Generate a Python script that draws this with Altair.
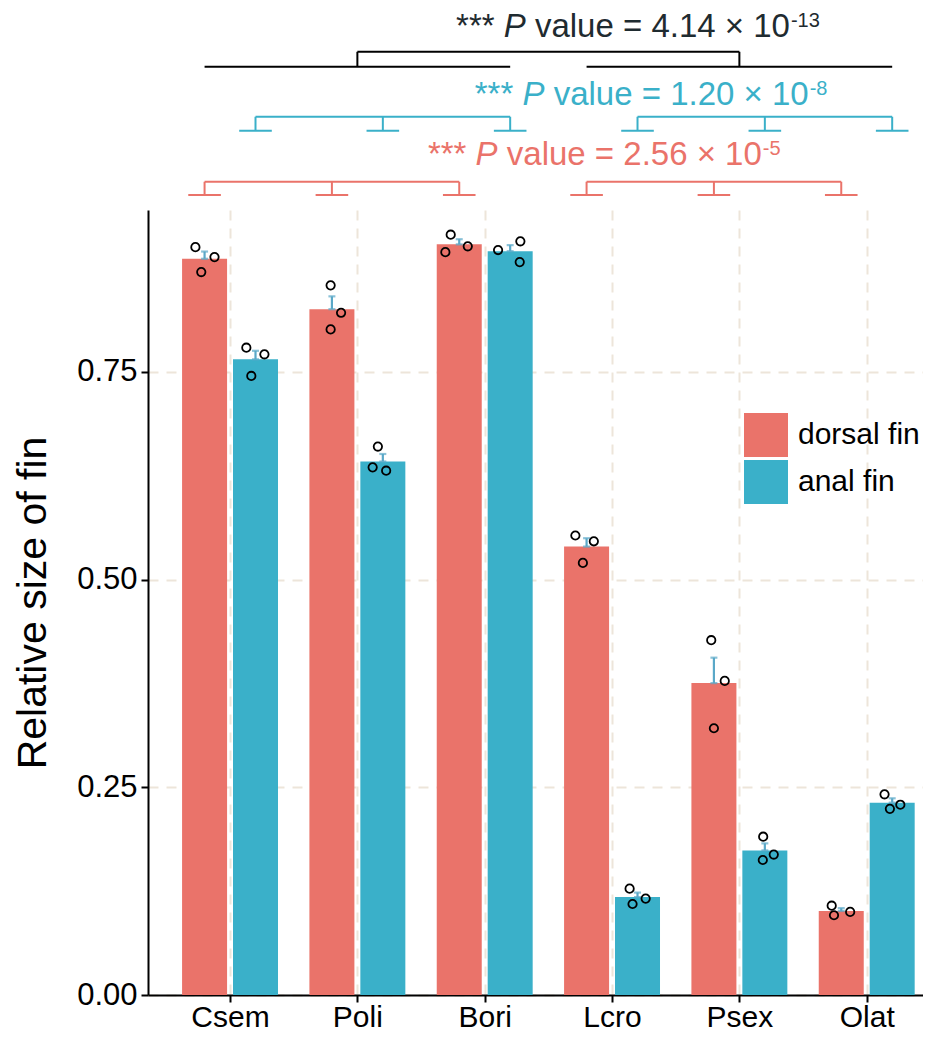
import altair as alt
import pandas as pd
import numpy as np

# ---------------- data ----------------
species = ["Csem", "Poli", "Bori", "Lcro", "Psex", "Olat"]
fins = ["dorsal fin", "anal fin"]

dorsal_points = [
    [0.900, 0.888, 0.870],
    [0.854, 0.821, 0.801],
    [0.915, 0.901, 0.894],
    [0.553, 0.546, 0.520],
    [0.427, 0.378, 0.321],
    [0.1075, 0.096, 0.100],
]
anal_points = [
    [0.779, 0.771, 0.745],
    [0.660, 0.635, 0.631],
    [0.8965, 0.907, 0.882],
    [0.128, 0.116, 0.1095],
    [0.1905, 0.1625, 0.169],
    [0.2415, 0.224, 0.229],
]
# horizontal jitter of the replicate points (category units)
dorsal_jitter = [
    [-0.072, 0.078, -0.026],
    [-0.010, 0.072, -0.010],
    [-0.067, 0.067, -0.109],
    [-0.088, 0.057, -0.029],
    [-0.021, 0.085, 0.000],
    [-0.075, -0.057, 0.070],
]
anal_jitter = [
    [-0.072, 0.070, -0.033],
    [-0.039, -0.080, 0.026],
    [-0.095, 0.080, 0.075],
    [-0.062, 0.064, -0.039],
    [-0.013, -0.016, 0.070],
    [-0.060, -0.018, 0.064],
]

# significance annotations
annot_mantissa = ["4.14", "1.20", "2.56"]
annot_exponent = ["-13", "-8", "-5"]
annot_x = [2.775, 2.922, 2.554]          # left start of each label (category units)
annot_y = [1.1528, 1.0710, 0.9988]       # text baselines (value units)
bracket_levels = {"black": (1.1171, 1.1351), "blue": (1.0401, 1.0569), "red": (0.9627, 0.9787)}

# ---------------- styling ----------------
RED = "#EA736A"
BLUE = "#3AB0C9"
DARK = "#1F2B30"
ERR = "#5AA8C8"
GRID = "#EDE5DA"
FONT = "Liberation Sans"
DODGE = 0.2
PLOT_W = 775
PLOT_H = 785
XDOM = [0.395, 0.395 + PLOT_W / 129.0]
YDOM = [0, 0.9447]

# ---------------- tables ----------------
bar_rows, pt_rows = [], []
for i, sp in enumerate(species):
    for fin, pts, jit, off in [("dorsal fin", dorsal_points[i], dorsal_jitter[i], -DODGE),
                               ("anal fin", anal_points[i], anal_jitter[i], DODGE)]:
        arr = np.array(pts)
        m = arr.mean()
        se = arr.std(ddof=1) / np.sqrt(len(arr))
        pos = i + 1 + off
        bar_rows.append({"species": sp, "fin": fin, "pos": pos, "mean": m, "top": m + se})
        for v, j in zip(pts, jit):
            pt_rows.append({"species": sp, "fin": fin, "pos": pos + j, "value": v})
bars_df = pd.DataFrame(bar_rows)
pts_df = pd.DataFrame(pt_rows)

seg = []
def add(x1, x2, y1, y2, c):
    seg.append({"x1": x1, "x2": x2, "y1": y1, "y2": y2, "c": c})

FOOT = 0.128
for name, off, col in [("blue", DODGE, BLUE), ("red", -DODGE, RED)]:
    yf, yt = bracket_levels[name]
    for grp in ([1, 2, 3], [4, 5, 6]):
        add(grp[0] + off, grp[-1] + off, yt, yt, col)
        for c in grp:
            add(c + off, c + off, yf, yt, col)
            add(c + off - FOOT, c + off + FOOT, yf, yf, col)
yl, yu = bracket_levels["black"]
add(1 - DODGE, 3 + DODGE, yl, yl, "black")
add(4 - DODGE, 6 + DODGE, yl, yl, "black")
add(2, 2, yl, yu, "black")
add(5, 5, yl, yu, "black")
add(2, 5, yu, yu, "black")
seg_df = pd.DataFrame(seg)

ann_df = pd.DataFrame({
    "xs": annot_x, "yb": annot_y,
    "s3": ["value = " + m + " \u00d7 10" for m in annot_mantissa],
    "exp": annot_exponent,
    "color": [DARK, BLUE, RED],
})

# ---------------- scales / axes ----------------
label_expr = "[" + ",".join(["''"] + ["'%s'" % s for s in species]) + "][datum.value]"
xscale = alt.Scale(domain=XDOM, nice=False, zero=False)
yscale = alt.Scale(domain=YDOM, nice=False, zero=True)
xaxis = alt.Axis(values=[1, 2, 3, 4, 5, 6], labelExpr=label_expr, title=None, grid=True,
                 labelPadding=0, labelFontSize=30)
yaxis = alt.Axis(values=[0, 0.25, 0.5, 0.75], format=".2f", title="Relative size of fin",
                 grid=True, labelPadding=4, titlePadding=22, labelFontSize=31)

def X(f):
    return alt.X(f, scale=xscale, axis=xaxis)

def Y(f):
    return alt.Y(f, scale=yscale, axis=yaxis)

bars = alt.Chart(bars_df).mark_bar(size=45).encode(
    x=X("pos:Q"), y=Y("mean:Q"),
    color=alt.Color("fin:N", scale=alt.Scale(domain=fins, range=[RED, BLUE]),
                    legend=alt.Legend(title=None, orient="none", legendX=596, legendY=203,
                                      symbolType="square", symbolSize=1936, symbolStrokeWidth=0,
                                      labelFontSize=30, labelFont=FONT, labelOffset=10,
                                      rowPadding=3, labelColor="black", padding=0)),
)
err_rule = alt.Chart(bars_df).mark_rule(color=ERR, strokeWidth=2.2).encode(
    x=X("pos:Q"), y=Y("mean:Q"), y2="top:Q")
err_lo = alt.Chart(bars_df).mark_tick(color=ERR, orient="horizontal", size=7, thickness=2.2).encode(
    x=X("pos:Q"), y=Y("mean:Q"))
err_hi = alt.Chart(bars_df).mark_tick(color=ERR, orient="horizontal", size=7, thickness=2.2).encode(
    x=X("pos:Q"), y=Y("top:Q"))
points = alt.Chart(pts_df).mark_point(filled=False, color="black", size=70, strokeWidth=1.8, opacity=1).encode(
    x=X("pos:Q"), y=Y("value:Q"))

brackets = alt.Chart(seg_df).mark_rule(strokeWidth=2).encode(
    x=X("x1:Q"), x2="x2:Q", y=Y("y1:Q"), y2="y2:Q",
    color=alt.Color("c:N", scale=None))

F = 33
FS = 20
CW = {"*": .389, " ": .278, "P": .667}
w_star = 3 * CW["*"] * F
w_sp = CW[" "] * F
w_P = CW["P"] * F
w3 = (0.5 + .556 + .222 + .556 + .556 + .278 + .584 + .278 + .556 + .278 + .556 + .556 + .278 + .584 + .278 + .556 + .556) * F

base = alt.Chart(ann_df)
t1 = base.mark_text(align="left", baseline="alphabetic", font=FONT, fontSize=F, dx=0).encode(
    x=X("xs:Q"), y=Y("yb:Q"), text=alt.value("***"), color=alt.Color("color:N", scale=None))
t2 = base.mark_text(align="left", baseline="alphabetic", font=FONT, fontSize=F, fontStyle="italic",
                    dx=w_star + w_sp).encode(
    x=X("xs:Q"), y=Y("yb:Q"), text=alt.value("P"), color=alt.Color("color:N", scale=None))
t3 = base.mark_text(align="left", baseline="alphabetic", font=FONT, fontSize=F,
                    dx=w_star + w_sp + w_P + w_sp).encode(
    x=X("xs:Q"), y=Y("yb:Q"), text="s3:N", color=alt.Color("color:N", scale=None))
t4 = base.mark_text(align="left", baseline="alphabetic", font=FONT, fontSize=FS,
                    dx=w_star + w_sp + w_P + w_sp + w3 + 1, dy=-10).encode(
    x=X("xs:Q"), y=Y("yb:Q"), text="exp:N", color=alt.Color("color:N", scale=None))

chart = alt.layer(bars, err_rule, err_lo, err_hi, points, brackets, t1, t2, t3, t4).properties(
    width=PLOT_W, height=PLOT_H,
    autosize=alt.AutoSizeParams(type="none"),
    padding={"left": 140, "top": 202, "right": 0, "bottom": 41},
).configure_view(strokeWidth=0).configure_axis(
    domainColor="black", domainWidth=2, tickColor="black", tickWidth=2, tickSize=7,
    labelFont=FONT, labelColor="black",
    gridColor=GRID, gridDash=[10, 8], gridWidth=2,
    titleFont=FONT, titleFontSize=41, titleFontWeight="normal", titleColor="black",
)

chart.save("out.html", embed_options={"renderer": "svg", "actions": False})
